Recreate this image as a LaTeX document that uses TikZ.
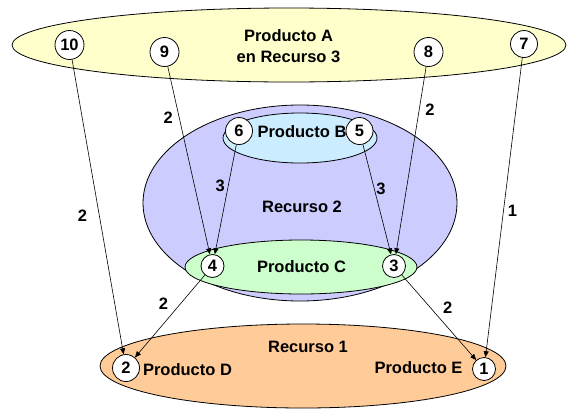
\documentclass[tikz,border=0pt]{standalone}
\usepackage{fontspec}
\setmainfont{Liberation Sans}
\usetikzlibrary{arrows.meta}
\definecolor{yellowfill}{HTML}{FFFFCC}
\definecolor{purplefill}{HTML}{CCCCFF}
\definecolor{bluefill}{HTML}{CCECFF}
\definecolor{greenfill}{HTML}{CCFFCC}
\definecolor{orangefill}{HTML}{FFCC99}
\begin{document}
\begin{tikzpicture}[x=1pt,y=-1pt,
  region/.style={draw=black,line width=0.8pt},
  lbl/.style={font=\fontsize{16.5}{19}\selectfont\bfseries,inner sep=0pt},
  num/.style={circle,draw=black,fill=white,line width=0.8pt,minimum size=27pt,inner sep=1pt,
    font=\fontsize{16.5}{19}\selectfont\bfseries},
  small/.style={minimum size=23pt},
  flow/.style={-{Triangle[length=6pt,width=5pt]},line width=0.6pt},
  qty/.style={font=\fontsize{16.5}{19}\selectfont\bfseries,inner sep=0pt}]
\useasboundingbox (0,0) rectangle (567,410);

% resource and product regions
\draw[region,fill=yellowfill] (289,45) ellipse [x radius=277, y radius=37];
\draw[region,fill=purplefill] (300,203) ellipse [x radius=157, y radius=98];
\draw[region,fill=bluefill] (300,138) ellipse [x radius=77, y radius=25];
\draw[region,fill=greenfill] (301,267) ellipse [x radius=116, y radius=27];
\draw[region,fill=orangefill] (303,366) ellipse [x radius=203, y radius=42];

% region captions
\node[lbl,align=center] (tA) at (288.5,46) {Producto A\\[2pt]en Recurso 3};
\node[lbl] (tB) at (302,132) {Producto B};
\node[lbl] (tR2) at (302,207) {Recurso 2};
\node[lbl] (tC) at (301.5,267) {Producto C};
\node[lbl] (tR1) at (308,347) {Recurso 1};
\node[lbl] (tD) at (187.5,370) {Producto D};
\node[lbl] (tE) at (418.5,368) {Producto E};

% numbered operations
\node[num,minimum size=29pt] (n10) at (69.5,45) {10};
\node[num,minimum size=29pt] (n9) at (164.5,52) {9};
\node[num,minimum size=29pt] (n8) at (428.5,52) {8};
\node[num] (n7) at (524,44) {7};
\node[num] (n6) at (239,131) {6};
\node[num] (n5) at (359.5,131) {5};
\node[num,small] (n4) at (212.5,266) {4};
\node[num,small] (n3) at (394,266) {3};
\node[num] (n2) at (126,368) {2};
\node[num,small] (n1) at (484,369) {1};

% material flows with quantities
\draw[flow] (n10) -- node[qty,pos=0.53,left=12pt] {2} (n2);
\draw[flow] (n9) -- node[qty,pos=0.27,left=6pt] {2} (n4);
\draw[flow] (n8) -- node[qty,pos=0.23,right=6pt] {2} (n3);
\draw[flow] (n7) -- node[qty,pos=0.51,right=4pt] {1} (n1);
\draw[flow] (n6) -- node[qty,pos=0.38,left=3pt] {3} (n4);
\draw[flow] (n5) -- node[qty,pos=0.40,right=2pt] {3} (n3);
\draw[flow] (n4) -- node[qty,pos=0.35,left=12pt] {2} (n2);
\draw[flow] (n3) -- node[qty,pos=0.39,right=12pt] {2} (n1);
\end{tikzpicture}
\end{document}
